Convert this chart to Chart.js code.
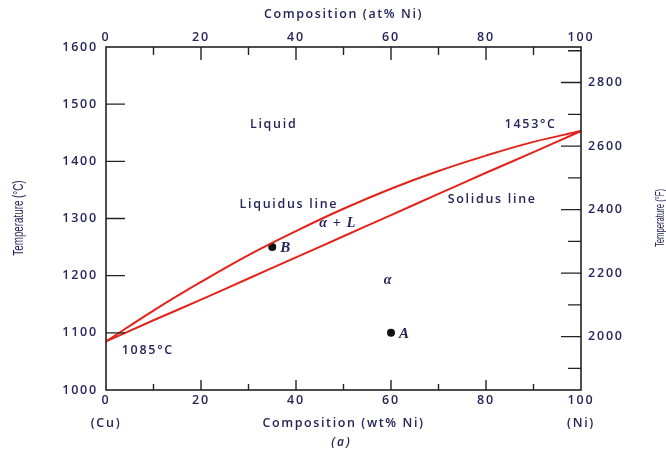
<!DOCTYPE html>
<html>
<head>
<meta charset="utf-8">
<script src="https://cdn.jsdelivr.net/npm/chart.js@4.4.1/dist/chart.umd.min.js"></script>
<style>
  html, body { margin: 0; padding: 0; background: #fff; }
  #wrap { width: 666px; height: 451px; }
</style>
</head>
<body>
<div id="wrap"><canvas id="phaseChart" width="666" height="451"></canvas></div>
<script>
// Cu-Ni phase diagram
const compositionWt = [0, 10, 20, 30, 40, 50, 60, 70, 80, 90, 100];
const liquidusTemp = [1085, 1139, 1189, 1236, 1278, 1317, 1352, 1383, 1410, 1434, 1453];
const solidusTemp = [1085, 1122, 1158, 1195, 1232, 1269, 1306, 1343, 1380, 1416, 1453];

const pointNames = ["A", "B"];
const pointWt = [60, 35];
const pointTemp = [1100, 1250];

const regionLabels = ["Liquid", "Liquidus line", "Solidus line", "1453°C", "1085°C"];
const regionLabelWt = [35.3, 38.5, 81.3, 89.4, 8.8];
const regionLabelTemp = [1465, 1325, 1334, 1465, 1070];

const phaseLabels = ["α + L", "α"];
const phaseLabelWt = [48.8, 59.4];
const phaseLabelTemp = [1292, 1191];

const wtMinorTicks = [10, 20, 30, 40, 50, 60, 70, 80, 90];
const atMinorTicks = [10, 20, 30, 40, 50, 60, 70, 80, 90];
const celsiusTicks = [1100, 1200, 1300, 1400, 1500];
const fahrenheitTicks = [2000, 2200, 2400, 2600, 2800];
const fahrenheitMinorTicks = [1900, 2000, 2100, 2200, 2300, 2400, 2500, 2600, 2700, 2800, 2900];

const TEXT_COLOR = "#24255a";
const RED = "#e2231a";
const SANS = "'Open Sans', 'DejaVu Sans', sans-serif";
const toF = (c) => c * 9 / 5 + 32;

Chart.defaults.font.family = SANS;
Chart.defaults.font.size = 12.5;
Chart.defaults.font.weight = "600";
Chart.defaults.color = TEXT_COLOR;

function drawText(ctx, str, x, y, font, align, spacing) {
  ctx.save();
  ctx.font = font;
  ctx.fillStyle = TEXT_COLOR;
  ctx.textAlign = align;
  ctx.textBaseline = "middle";
  ctx.letterSpacing = spacing;
  ctx.fillText(str, x, y);
  ctx.restore();
}

// vertical titles, squeezed along the text direction
function drawRotated(ctx, str, x, y, font, squeeze) {
  ctx.save();
  ctx.translate(x, y);
  ctx.rotate(-Math.PI / 2);
  ctx.scale(squeeze, 1);
  drawText(ctx, str, 0, 0, font, "center", "0px");
  ctx.restore();
}

const framePlugin = {
  id: "frame",
  beforeDraw(chart) {
    // wide spaced look of the original lettering
    chart.ctx.letterSpacing = "1.8px";
  },
  afterDraw(chart) {
    const { ctx, chartArea: a, scales } = chart;
    const { x, y, x2, y2 } = scales;
    ctx.save();
    ctx.letterSpacing = "0px";
    ctx.strokeStyle = "#222";
    ctx.lineWidth = 1.6;
    ctx.strokeRect(a.left, a.top, a.right - a.left, a.bottom - a.top);

    ctx.lineWidth = 1.4;
    ctx.beginPath();
    celsiusTicks.forEach((v) => {
      const py = y.getPixelForValue(v);
      ctx.moveTo(a.left, py);
      ctx.lineTo(a.left + 19, py);
    });
    fahrenheitMinorTicks.forEach((v) => {
      const py = y2.getPixelForValue(v);
      const len = v % 200 === 0 ? 20 : 13;
      ctx.moveTo(a.right, py);
      ctx.lineTo(a.right - len, py);
    });
    wtMinorTicks.forEach((v) => {
      const px = x.getPixelForValue(v);
      const len = v % 20 === 0 ? 10 : 6;
      ctx.moveTo(px, a.bottom);
      ctx.lineTo(px, a.bottom - len);
    });
    atMinorTicks.forEach((v) => {
      const px = x2.getPixelForValue(v);
      const len = v % 20 === 0 ? 13 : 8;
      ctx.moveTo(px, a.top);
      ctx.lineTo(px, a.top + len);
    });
    ctx.stroke();
    ctx.restore();

    // region and line labels
    const sans = "600 12.5px " + SANS;
    regionLabels.forEach((t, i) => {
      drawText(ctx, t, x.getPixelForValue(regionLabelWt[i]), y.getPixelForValue(regionLabelTemp[i]), sans, "center", "1.7px");
    });
    phaseLabels.forEach((t, i) => {
      drawText(ctx, t, x.getPixelForValue(phaseLabelWt[i]), y.getPixelForValue(phaseLabelTemp[i]),
        "italic bold 14px 'Liberation Serif', serif", "center", "1.2px");
    });
    pointNames.forEach((t, i) => {
      drawText(ctx, t, x.getPixelForValue(pointWt[i]) + 8, y.getPixelForValue(pointTemp[i]) + 1,
        "italic bold 15px 'Liberation Serif', serif", "left", "0px");
    });

    // axis titles
    const mid = x.getPixelForValue(50);
    drawText(ctx, "Composition (at% Ni)", mid, 14, sans, "center", "1.6px");
    drawText(ctx, "Composition (wt% Ni)", mid, 423, sans, "center", "1.6px");
    drawText(ctx, "(Cu)", x.getPixelForValue(0), 423, sans, "center", "1.7px");
    drawText(ctx, "(Ni)", x.getPixelForValue(100), 423, sans, "center", "1.7px");
    drawText(ctx, "(a)", mid - 2, 443, "italic 600 12px " + SANS, "center", "2px");
    drawRotated(ctx, "Temperature (°C)", 19, 218, "14px 'Liberation Sans', sans-serif", 0.7);
    drawRotated(ctx, "Temperature (°F)", 661, 218, "12px 'Liberation Sans', sans-serif", 0.64);
  },
};

const plainLabel = (v) => String(v);

new Chart(document.getElementById("phaseChart"), {
  type: "scatter",
  data: {
    datasets: [
      {
        label: "Liquidus line",
        data: compositionWt.map((w, i) => ({ x: w, y: liquidusTemp[i] })),
        showLine: true,
        borderColor: RED,
        borderWidth: 2,
        pointRadius: 0,
        tension: 0.4,
      },
      {
        label: "Solidus line",
        data: compositionWt.map((w, i) => ({ x: w, y: solidusTemp[i] })),
        showLine: true,
        borderColor: RED,
        borderWidth: 2,
        pointRadius: 0,
        tension: 0.4,
      },
      {
        label: "Points",
        data: pointWt.map((w, i) => ({ x: w, y: pointTemp[i] })),
        pointRadius: 4,
        pointBackgroundColor: "#111",
        pointBorderWidth: 0,
      },
    ],
  },
  options: {
    responsive: false,
    animation: false,
    layout: { padding: 0 },
    plugins: {
      legend: { display: false },
      tooltip: { enabled: false },
    },
    scales: {
      x: {
        type: "linear",
        position: "bottom",
        min: 0,
        max: 100,
        grid: { display: false, drawTicks: false },
        border: { display: false },
        ticks: { stepSize: 20, padding: 3, callback: plainLabel },
        afterFit: (s) => { s.height = 61; },
      },
      x2: {
        type: "linear",
        position: "top",
        min: 0,
        max: 100,
        grid: { display: false, drawTicks: false },
        border: { display: false },
        ticks: { stepSize: 20, padding: 2, callback: plainLabel },
        afterFit: (s) => { s.height = 47; },
      },
      y: {
        type: "linear",
        position: "left",
        min: 1000,
        max: 1600,
        grid: { display: false, drawTicks: false },
        border: { display: false },
        ticks: { stepSize: 100, padding: 8, callback: plainLabel },
        afterFit: (s) => { s.width = 106; },
      },
      y2: {
        type: "linear",
        position: "right",
        min: toF(1000),
        max: toF(1600),
        grid: { display: false, drawTicks: false },
        border: { display: false },
        ticks: { padding: 7, callback: plainLabel },
        afterBuildTicks: (s) => { s.ticks = fahrenheitTicks.map((v) => ({ value: v })); },
        afterFit: (s) => { s.width = 85; },
      },
    },
  },
  plugins: [framePlugin],
});
</script>
</body>
</html>
